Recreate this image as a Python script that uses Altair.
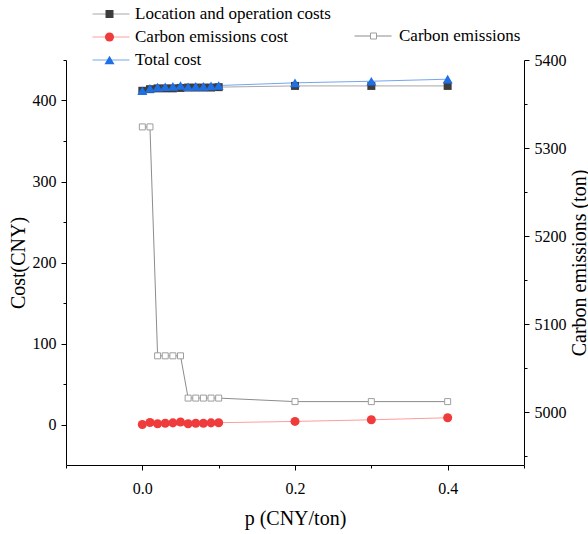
import altair as alt
import pandas as pd

# ---- data ----
p = [0.0, 0.01, 0.02, 0.03, 0.04, 0.05, 0.06, 0.07, 0.08, 0.09, 0.1, 0.2, 0.3, 0.4]
location_cost = [412, 414, 415, 415, 415, 415.5, 416, 416, 416, 416, 416.5, 418, 418, 418]
carbon_cost = [0, 2.5, 1, 1.5, 2, 3, 1, 1.5, 1.5, 2, 2.2, 3.8, 5.8, 8.3]
total_cost = [412, 415, 416.5, 417, 417.5, 418.5, 417, 417.5, 417.5, 418, 418.5, 421.8, 423.8, 426.3]
emissions = [5324, 5324, 5064, 5064, 5064, 5064, 5016, 5016, 5016, 5016, 5016, 5012, 5012, 5012]

series_names = ["Location and operation costs", "Carbon emissions cost", "Total cost"]
emission_name = "Carbon emissions"

marker_colors = ["#3d3d3d", "#ef3b3b", "#1f6fe5"]
line_colors = ["#a8a8a8", "#ff9c9c", "#74a6ee"]
marker_shapes = ["square", "circle", "triangle-up"]
marker_sizes = [64, 100, 110]

rows = []
for name, vals in zip(series_names, [location_cost, carbon_cost, total_cost]):
    for pi, v in zip(p, vals):
        rows.append({"p": pi, "series": name, "series_line": name, "value": v})
cost_df = pd.DataFrame(rows)
em_df = pd.DataFrame({"p": p, "emissions": emissions,
                      "series": emission_name, "series_line": emission_name})

FONT = "Liberation Serif"

x_axis = alt.Axis(
    values=[-0.1, 0, 0.1, 0.2, 0.3, 0.4, 0.5],
    labelExpr="round(datum.value*10) % 2 == 0 ? format(datum.value, '.1f') : ''",
    tickSize={"condition": {"test": "round(datum.value*10) % 2 == 0", "value": 5}, "value": 3},
    labelPadding=10, titlePadding=12, title="p (CNY/ton)",
)
x_enc = alt.X("p:Q", scale=alt.Scale(domain=[-0.1, 0.5], nice=False, zero=False), axis=x_axis)

left_axis = alt.Axis(
    values=[0, 50, 100, 150, 200, 250, 300, 350, 400, 450],
    labelExpr="datum.value % 100 == 0 ? datum.value : ''",
    tickSize={"condition": {"test": "datum.value % 100 == 0", "value": 5}, "value": 3},
    labelPadding=5, titlePadding=4, title="Cost(CNY)",
)
right_axis = alt.Axis(
    orient="right",
    values=[4950, 5000, 5050, 5100, 5150, 5200, 5250, 5300, 5350, 5400],
    labelExpr="datum.value % 100 == 0 ? datum.value : ''",
    tickSize={"condition": {"test": "datum.value % 100 == 0", "value": 5}, "value": 3},
    labelPadding=5, titlePadding=3, title="Carbon emissions (ton)",
    titleAngle=270, titleBaseline="top",
)

leg_common = dict(orient="none", title=None, clipHeight=20, rowPadding=3, padding=0,
                  labelFont=FONT, labelFontSize=17, labelLimit=0)

cost_lines = alt.Chart(cost_df).mark_line(strokeWidth=1).encode(
    x=x_enc,
    y=alt.Y("value:Q", scale=alt.Scale(domain=[-50, 450], nice=False, zero=False), axis=left_axis),
    stroke=alt.Stroke("series_line:N", sort=series_names,
                      scale=alt.Scale(range=line_colors),
                      legend=alt.Legend(legendX=26, legendY=-56, symbolType="stroke",
                                        symbolSize=1369, symbolStrokeWidth=1,
                                        labelExpr="''", **leg_common)),
    detail="series:N",
)

pt_legend = alt.Legend(legendX=35, legendY=-56, symbolSize=81, labelOffset=17,
                       symbolOpacity=1, **leg_common)
cost_points = alt.Chart(cost_df).mark_point(filled=True, opacity=1).encode(
    x=x_enc,
    y=alt.Y("value:Q", scale=alt.Scale(domain=[-50, 450], nice=False, zero=False), axis=left_axis),
    color=alt.Color("series:N", scale=alt.Scale(domain=series_names, range=marker_colors), legend=pt_legend),
    shape=alt.Shape("series:N", scale=alt.Scale(domain=series_names, range=marker_shapes), legend=pt_legend),
    size=alt.Size("series:N", scale=alt.Scale(domain=series_names, range=marker_sizes), legend=None),
)

cost_layer = alt.layer(cost_lines, cost_points)

em_lines = alt.Chart(em_df).mark_line(strokeWidth=1).encode(
    x=x_enc,
    y=alt.Y("emissions:Q", scale=alt.Scale(domain=[4940, 5400], nice=False, zero=False), axis=right_axis),
    stroke=alt.Stroke("series_line:N", sort=[emission_name],
                      scale=alt.Scale(range=["#8c8c8c"]),
                      legend=alt.Legend(legendX=288, legendY=-34, symbolType="stroke",
                                        symbolSize=1369, symbolStrokeWidth=1,
                                        labelExpr="''", **leg_common)),
)
em_points = alt.Chart(em_df).mark_point(shape="square", filled=False, fill="white",
                                         strokeWidth=1, size=36, opacity=1).encode(
    x=x_enc,
    y=alt.Y("emissions:Q", scale=alt.Scale(domain=[4940, 5400], nice=False, zero=False), axis=right_axis),
    color=alt.Color("series:N", scale=alt.Scale(domain=[emission_name], range=["#9e9e9e"]),
                    legend=alt.Legend(legendX=299, legendY=-34, symbolSize=36, symbolType="square",
                                      symbolFillColor="white", symbolStrokeWidth=1,
                                      labelOffset=17, **leg_common)),
)
em_layer = alt.layer(em_lines, em_points)

chart = alt.layer(cost_layer, em_layer).resolve_scale(
    y="independent", stroke="independent", shape="independent", color="independent", size="independent"
).properties(
    width=458, height=405,
    autosize=alt.AutoSizeParams(type="none"),
    padding={"left": 66, "top": 60, "right": 64, "bottom": 69},
).configure_view(stroke=None).configure_axis(
    grid=False, domainColor="black", tickColor="black", labelColor="black", titleColor="black",
    labelFont=FONT, titleFont=FONT, labelFontSize=16, titleFontSize=20, titleFontWeight="normal",
    domainWidth=1, tickWidth=1,
).configure_legend(labelFont=FONT, labelFontSize=17, labelColor="black")

chart.save("out.html", embed_options={"renderer": "svg", "actions": False})
